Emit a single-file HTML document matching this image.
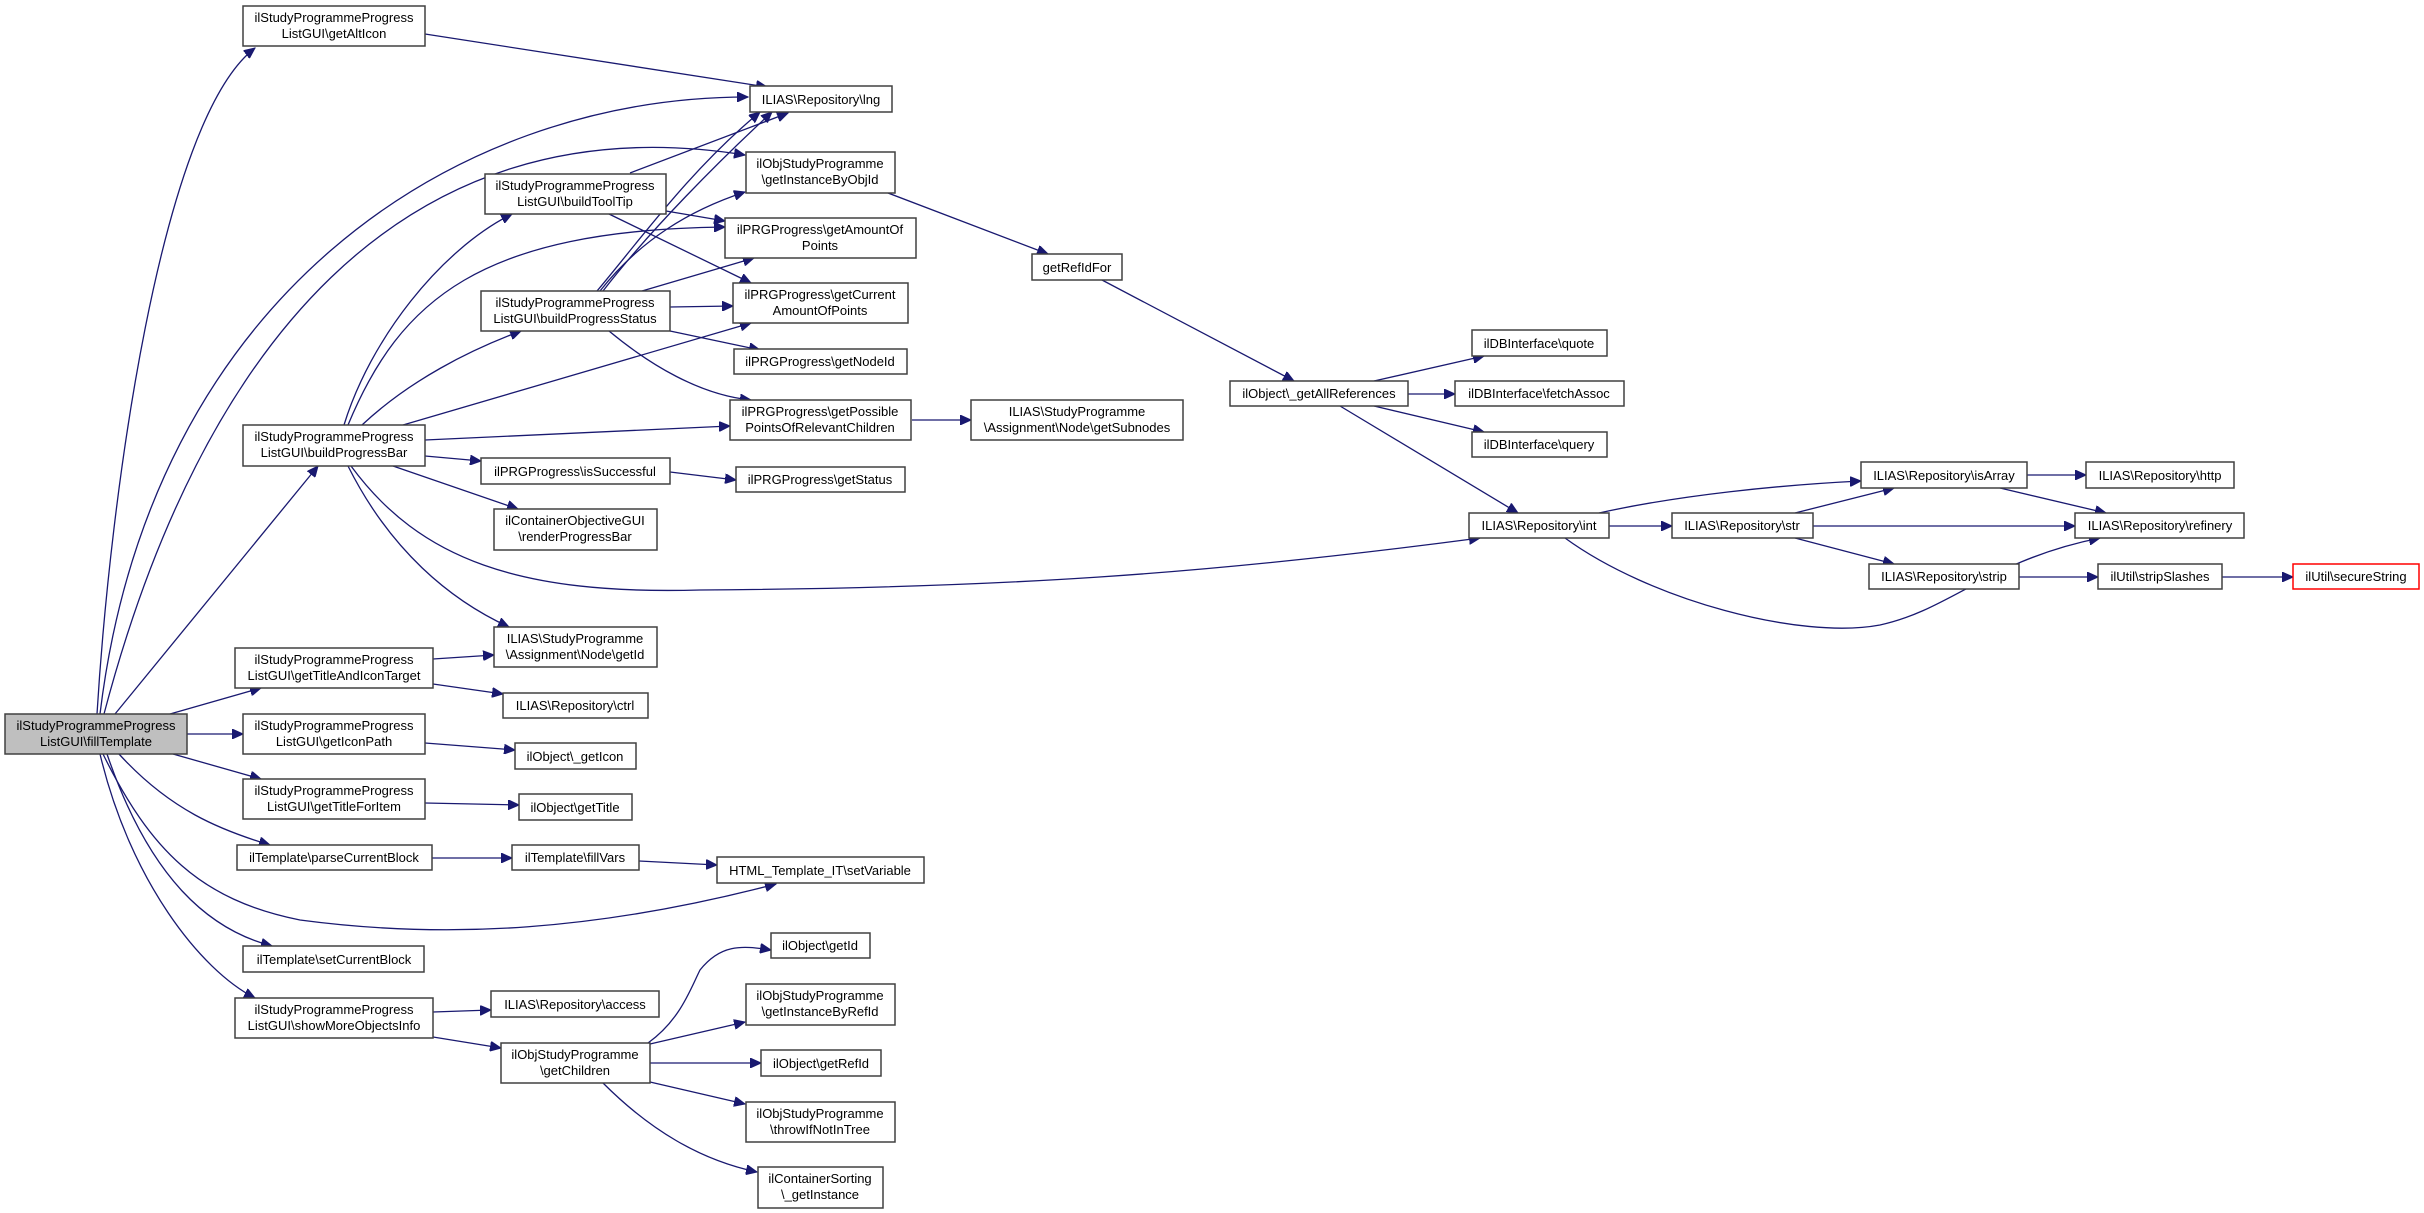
<!DOCTYPE html>
<html><head><meta charset="utf-8"><style>
html,body{margin:0;padding:0;background:#fff}
svg{display:block}
text{font-family:"Liberation Sans",Helvetica,Arial,sans-serif;font-size:13px;fill:#000;text-anchor:middle}
.n{fill:#fff;stroke:#404040;stroke-width:1.5}
.e{fill:none;stroke:#191970;stroke-width:1.3}
</style></head><body>
<svg width="2424" height="1213" viewBox="0 0 2424 1213" xmlns="http://www.w3.org/2000/svg">
<defs><marker id="a" markerUnits="userSpaceOnUse" markerWidth="12" markerHeight="10" refX="11" refY="5" orient="auto"><path d="M0,0 L11,5 L0,10 z" fill="#191970" stroke="#191970"/></marker></defs>
<g class="e" marker-end="url(#a)">
<path d="M97,714 C110,500 160,120 255,48"/>
<path d="M100,714 C150,300 450,97 748,97"/>
<path d="M104,714 C200,350 400,100 745,155"/>
<path d="M115,714 L318,466"/>
<path d="M170,714 L261,688"/>
<path d="M187,734 L243,734"/>
<path d="M173,754 L261,779"/>
<path d="M119,754 C170,810 220,830 270,845"/>
<path d="M103,754 C150,850 200,900 300,920 C450,940 600,930 776,884"/>
<path d="M107,754 C150,880 210,930 272,946"/>
<path d="M100,754 C130,880 200,970 255,998"/>
<path d="M344,425 C370,340 440,250 512,214"/>
<path d="M348,425 C400,300 480,230 725,227"/>
<path d="M362,425 C410,380 470,350 521,331"/>
<path d="M403,425 L751,323"/>
<path d="M425,440 L730,426"/>
<path d="M425,456 L481,461"/>
<path d="M393,466 L518,509"/>
<path d="M348,466 C390,550 450,600 509,627"/>
<path d="M351,466 C420,560 520,595 700,590 C1000,588 1200,575 1480,538"/>
<path d="M630,173 L788,113"/>
<path d="M666,211 L725,221"/>
<path d="M609,214 L751,283"/>
<path d="M597,291 C640,240 690,170 760,112"/>
<path d="M603,291 C650,230 720,160 772,112"/>
<path d="M600,291 C640,240 690,210 745,192"/>
<path d="M642,291 L754,258"/>
<path d="M670,307 L733,306"/>
<path d="M670,331 L760,350"/>
<path d="M609,331 C650,365 700,395 751,400"/>
<path d="M888,193 C960,220 1010,240 1048,254"/>
<path d="M1102,280 L1294,381"/>
<path d="M912,420 L971,420"/>
<path d="M670,472 L736,480"/>
<path d="M1374,381 L1484,356"/>
<path d="M1408,394 L1455,394"/>
<path d="M1374,406 L1484,432"/>
<path d="M1340,406 L1518,513"/>
<path d="M1599,513 C1680,495 1780,485 1861,481"/>
<path d="M1609,526 L1672,526"/>
<path d="M1565,538 C1650,600 1800,640 1880,625 C1950,610 1990,560 2100,538"/>
<path d="M1795,513 L1894,488"/>
<path d="M1813,526 L2075,526"/>
<path d="M1795,538 L1894,564"/>
<path d="M2027,475 L2086,475"/>
<path d="M2000,488 L2106,513"/>
<path d="M2019,577 L2098,577"/>
<path d="M2222,577 L2293,577"/>
<path d="M425,34 C560,55 690,75 767,87"/>
<path d="M433,659 L494,655"/>
<path d="M433,684 L503,694"/>
<path d="M425,743 L515,750"/>
<path d="M425,803 L519,805"/>
<path d="M432,858 L512,858"/>
<path d="M639,861 L717,865"/>
<path d="M433,1012 L491,1010"/>
<path d="M433,1037 L501,1048"/>
<path d="M648,1043 C680,1020 690,990 700,970 C720,945 740,945 771,950"/>
<path d="M650,1044 L745,1022"/>
<path d="M650,1063 L761,1063"/>
<path d="M650,1082 L745,1104"/>
<path d="M603,1083 C650,1130 700,1160 757,1172"/>
</g>
<g>
<rect class="n" x="243" y="6" width="182" height="40"/><text x="334" y="22">ilStudyProgrammeProgress</text><text x="334" y="38">ListGUI\getAltIcon</text>
<rect class="n" x="750" y="86" width="142" height="26"/><text x="821" y="104">ILIAS\Repository\lng</text>
<rect class="n" x="746" y="152" width="149" height="41"/><text x="820" y="168">ilObjStudyProgramme</text><text x="820" y="184">\getInstanceByObjId</text>
<rect class="n" x="485" y="174" width="181" height="40"/><text x="575" y="190">ilStudyProgrammeProgress</text><text x="575" y="206">ListGUI\buildToolTip</text>
<rect class="n" x="725" y="218" width="191" height="40"/><text x="820" y="234">ilPRGProgress\getAmountOf</text><text x="820" y="250">Points</text>
<rect class="n" x="733" y="283" width="175" height="40"/><text x="820" y="299">ilPRGProgress\getCurrent</text><text x="820" y="315">AmountOfPoints</text>
<rect class="n" x="481" y="291" width="189" height="40"/><text x="575" y="307">ilStudyProgrammeProgress</text><text x="575" y="323">ListGUI\buildProgressStatus</text>
<rect class="n" x="734" y="349" width="173" height="25"/><text x="820" y="366">ilPRGProgress\getNodeId</text>
<rect class="n" x="730" y="400" width="181" height="40"/><text x="820" y="416">ilPRGProgress\getPossible</text><text x="820" y="432">PointsOfRelevantChildren</text>
<rect class="n" x="243" y="425" width="182" height="41"/><text x="334" y="441">ilStudyProgrammeProgress</text><text x="334" y="457">ListGUI\buildProgressBar</text>
<rect class="n" x="481" y="458" width="189" height="26"/><text x="575" y="476">ilPRGProgress\isSuccessful</text>
<rect class="n" x="736" y="467" width="169" height="25"/><text x="820" y="484">ilPRGProgress\getStatus</text>
<rect class="n" x="494" y="509" width="163" height="41"/><text x="575" y="525">ilContainerObjectiveGUI</text><text x="575" y="541">\renderProgressBar</text>
<rect class="n" x="494" y="627" width="163" height="40"/><text x="575" y="643">ILIAS\StudyProgramme</text><text x="575" y="659">\Assignment\Node\getId</text>
<rect class="n" x="235" y="648" width="198" height="40"/><text x="334" y="664">ilStudyProgrammeProgress</text><text x="334" y="680">ListGUI\getTitleAndIconTarget</text>
<rect class="n" x="503" y="693" width="145" height="25"/><text x="575" y="710">ILIAS\Repository\ctrl</text>
<rect x="5" y="714" width="182" height="40" fill="#bfbfbf" stroke="#404040" stroke-width="1.5"/><text x="96" y="730">ilStudyProgrammeProgress</text><text x="96" y="746">ListGUI\fillTemplate</text>
<rect class="n" x="243" y="714" width="182" height="40"/><text x="334" y="730">ilStudyProgrammeProgress</text><text x="334" y="746">ListGUI\getIconPath</text>
<rect class="n" x="515" y="743" width="121" height="26"/><text x="575" y="761">ilObject\_getIcon</text>
<rect class="n" x="243" y="779" width="182" height="40"/><text x="334" y="795">ilStudyProgrammeProgress</text><text x="334" y="811">ListGUI\getTitleForItem</text>
<rect class="n" x="519" y="794" width="113" height="26"/><text x="575" y="812">ilObject\getTitle</text>
<rect class="n" x="237" y="845" width="195" height="25"/><text x="334" y="862">ilTemplate\parseCurrentBlock</text>
<rect class="n" x="512" y="845" width="127" height="25"/><text x="575" y="862">ilTemplate\fillVars</text>
<rect class="n" x="717" y="857" width="207" height="26"/><text x="820" y="875">HTML_Template_IT\setVariable</text>
<rect class="n" x="243" y="946" width="181" height="26"/><text x="334" y="964">ilTemplate\setCurrentBlock</text>
<rect class="n" x="771" y="933" width="99" height="25"/><text x="820" y="950">ilObject\getId</text>
<rect class="n" x="235" y="998" width="198" height="40"/><text x="334" y="1014">ilStudyProgrammeProgress</text><text x="334" y="1030">ListGUI\showMoreObjectsInfo</text>
<rect class="n" x="491" y="991" width="168" height="26"/><text x="575" y="1009">ILIAS\Repository\access</text>
<rect class="n" x="746" y="984" width="149" height="41"/><text x="820" y="1000">ilObjStudyProgramme</text><text x="820" y="1016">\getInstanceByRefId</text>
<rect class="n" x="501" y="1043" width="149" height="40"/><text x="575" y="1059">ilObjStudyProgramme</text><text x="575" y="1075">\getChildren</text>
<rect class="n" x="761" y="1050" width="120" height="26"/><text x="821" y="1068">ilObject\getRefId</text>
<rect class="n" x="746" y="1102" width="149" height="40"/><text x="820" y="1118">ilObjStudyProgramme</text><text x="820" y="1134">\throwIfNotInTree</text>
<rect class="n" x="758" y="1167" width="125" height="41"/><text x="820" y="1183">ilContainerSorting</text><text x="820" y="1199">\_getInstance</text>
<rect class="n" x="1032" y="254" width="90" height="26"/><text x="1077" y="272">getRefIdFor</text>
<rect class="n" x="971" y="400" width="212" height="40"/><text x="1077" y="416">ILIAS\StudyProgramme</text><text x="1077" y="432">\Assignment\Node\getSubnodes</text>
<rect class="n" x="1230" y="381" width="178" height="25"/><text x="1319" y="398">ilObject\_getAllReferences</text>
<rect class="n" x="1472" y="330" width="135" height="26"/><text x="1539" y="348">ilDBInterface\quote</text>
<rect class="n" x="1455" y="381" width="169" height="25"/><text x="1539" y="398">ilDBInterface\fetchAssoc</text>
<rect class="n" x="1472" y="432" width="135" height="25"/><text x="1539" y="449">ilDBInterface\query</text>
<rect class="n" x="1469" y="513" width="140" height="25"/><text x="1539" y="530">ILIAS\Repository\int</text>
<rect class="n" x="1861" y="462" width="166" height="26"/><text x="1944" y="480">ILIAS\Repository\isArray</text>
<rect class="n" x="2086" y="462" width="148" height="26"/><text x="2160" y="480">ILIAS\Repository\http</text>
<rect class="n" x="1672" y="513" width="141" height="25"/><text x="1742" y="530">ILIAS\Repository\str</text>
<rect class="n" x="2075" y="513" width="169" height="25"/><text x="2160" y="530">ILIAS\Repository\refinery</text>
<rect class="n" x="1869" y="564" width="150" height="25"/><text x="1944" y="581">ILIAS\Repository\strip</text>
<rect class="n" x="2098" y="564" width="124" height="25"/><text x="2160" y="581">ilUtil\stripSlashes</text>
<rect x="2293" y="564" width="126" height="25" fill="#fff" stroke="#ff0000" stroke-width="1.5"/><text x="2356" y="581">ilUtil\secureString</text>
</g>
</svg>
</body></html>
